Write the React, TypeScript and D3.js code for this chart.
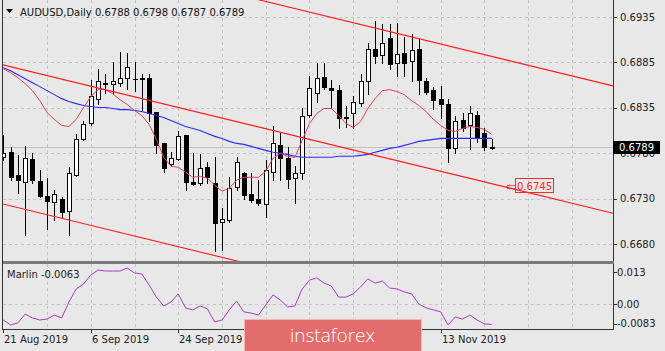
import React from 'react';
import * as d3 from 'd3';

// AUDUSD daily candles, 21 Aug 2019 .. 22 Nov 2019
const opens = [
  0.67774, 0.6783, 0.67573, 0.67494, 0.67751, 0.67505, 0.67338, 0.67271, 0.67304, 0.6717,
  0.67573, 0.67975, 0.68154, 0.68433, 0.68612, 0.68601, 0.68612, 0.68668, 0.68657, 0.68668,
  0.68668, 0.68288, 0.6793, 0.67695, 0.67751, 0.6802, 0.67494, 0.67483, 0.67662, 0.67483,
  0.67047, 0.67069, 0.67438, 0.67595, 0.6736, 0.67304, 0.67248, 0.67606, 0.67908, 0.67763,
  0.67539, 0.67595, 0.68254, 0.685, 0.68679, 0.68556, 0.68534, 0.6821, 0.68266, 0.68389,
  0.68635, 0.68995, 0.68925, 0.69115, 0.68836, 0.68948, 0.68858, 0.68992, 0.68635, 0.68534,
  0.68433, 0.68377, 0.67874, 0.68198, 0.68132, 0.68254, 0.68042, 0.6788,
];
const highs = [
  0.6802, 0.67886, 0.67796, 0.67897, 0.67819, 0.67628, 0.67539, 0.67405, 0.67327, 0.67662,
  0.68031, 0.68187, 0.68646, 0.68769, 0.68713, 0.68847, 0.68959, 0.68948, 0.68847, 0.68713,
  0.68713, 0.68288, 0.6793, 0.6783, 0.68075, 0.6802, 0.67819, 0.67807, 0.67718, 0.67774,
  0.67204, 0.6755, 0.67774, 0.67606, 0.67595, 0.67517, 0.6774, 0.6812, 0.68042, 0.67886,
  0.67673, 0.68333, 0.6869, 0.68836, 0.68836, 0.68646, 0.6859, 0.68355, 0.68467, 0.68713,
  0.69059, 0.69305, 0.69272, 0.69272, 0.69283, 0.69127, 0.6916, 0.69104, 0.68668, 0.68567,
  0.68579, 0.68433, 0.68243, 0.68277, 0.68355, 0.68299, 0.68098, 0.6798,
];
const lows = [
  0.6774, 0.67517, 0.67371, 0.66902, 0.67483, 0.67327, 0.6697, 0.67069, 0.67103, 0.66902,
  0.67561, 0.67964, 0.68132, 0.68378, 0.685, 0.685, 0.68579, 0.68545, 0.68523, 0.68299,
  0.68187, 0.67817, 0.67606, 0.67673, 0.6774, 0.67405, 0.67461, 0.67461, 0.67483, 0.66723,
  0.66734, 0.67047, 0.67405, 0.67304, 0.67271, 0.67237, 0.67103, 0.67517, 0.67517, 0.67427,
  0.6726, 0.67528, 0.68232, 0.684, 0.68545, 0.68333, 0.68098, 0.68109, 0.68098, 0.68355,
  0.68489, 0.68836, 0.68836, 0.68769, 0.68691, 0.68691, 0.68635, 0.68489, 0.68489, 0.68321,
  0.6821, 0.67718, 0.67817, 0.68075, 0.67863, 0.67941, 0.67852, 0.6787,
];
const closes = [
  0.67818, 0.6755, 0.67517, 0.67763, 0.67517, 0.67338, 0.67282, 0.6736, 0.67159, 0.67595,
  0.67975, 0.68143, 0.68467, 0.68635, 0.68601, 0.68635, 0.68668, 0.68791, 0.68651, 0.68657,
  0.68277, 0.67907, 0.67651, 0.67763, 0.68009, 0.67494, 0.67472, 0.67651, 0.6755, 0.67036,
  0.67081, 0.67427, 0.67718, 0.67349, 0.67293, 0.6726, 0.67628, 0.6793, 0.67763, 0.67528,
  0.67595, 0.68243, 0.68556, 0.68668, 0.68568, 0.68534, 0.6821, 0.68232, 0.684, 0.68635,
  0.68995, 0.68914, 0.69059, 0.68825, 0.68937, 0.68836, 0.68981, 0.68646, 0.68512, 0.68422,
  0.68377, 0.67874, 0.68187, 0.68098, 0.68266, 0.67986, 0.67886, 0.6789,
];

// fast moving average (red) and slow moving average (blue)
const fastMA = [
  0.68769, 0.68724, 0.68668, 0.68601, 0.68523, 0.68411, 0.68277, 0.68199, 0.68132, 0.6812,
  0.68199, 0.68333, 0.68456, 0.68534, 0.68534, 0.68489, 0.68422, 0.68366, 0.68299, 0.68243,
  0.68143, 0.67975, 0.67774, 0.67673, 0.67662, 0.67606, 0.6755, 0.67561, 0.67539, 0.67461,
  0.67394, 0.67427, 0.67517, 0.6755, 0.6755, 0.6755, 0.67617, 0.67763, 0.67819, 0.67785,
  0.67774, 0.67964, 0.68154, 0.68266, 0.68322, 0.68322, 0.68243, 0.68154, 0.68109, 0.68176,
  0.68322, 0.68433, 0.68523, 0.68534, 0.68512, 0.68478, 0.68411, 0.68355, 0.68288, 0.68199,
  0.68132, 0.68076, 0.68065, 0.68098, 0.6812, 0.68109, 0.68087, 0.68031,
];
const slowMA = [
  0.6878, 0.68746, 0.68702, 0.68657, 0.68612, 0.68568, 0.68523, 0.68478, 0.68433, 0.684,
  0.68377, 0.68355, 0.68344, 0.68333, 0.68333, 0.68322, 0.6831, 0.6831, 0.68299, 0.68288,
  0.68266, 0.68243, 0.68221, 0.68187, 0.68154, 0.6812, 0.68098, 0.68076, 0.68042, 0.68009,
  0.67986, 0.67953, 0.6793, 0.67919, 0.67897, 0.67874, 0.67852, 0.6783, 0.67819, 0.67807,
  0.67785, 0.67774, 0.67774, 0.67774, 0.67774, 0.67774, 0.67785, 0.67785, 0.67785, 0.67796,
  0.67807, 0.6783, 0.67852, 0.67874, 0.67886, 0.67908, 0.6793, 0.67953, 0.67964, 0.67975,
  0.67986, 0.67986, 0.67986, 0.67986, 0.67986, 0.67986, 0.67986, 0.67986,
];

// Marlin oscillator
const marlin = [
  -0.0065, -0.0085, -0.0077, -0.0041, -0.0057, -0.0065, -0.0061, -0.0045, -0.0057, 0.0008,
  0.0061, 0.0081, 0.0118, 0.0138, 0.0134, 0.0134, 0.0134, 0.0146, 0.0126, 0.0122,
  0.0077, 0.0028, -0.0008, 0.0008, 0.0041, -0.0016, -0.0024, -0.0008, -0.002, -0.0073,
  -0.0065, -0.0024, 0.0012, -0.0032, -0.0037, -0.0045, -0.0004, 0.0037, 0.0016, -0.0012,
  -0.0008, 0.0061, 0.0097, 0.0106, 0.0085, 0.0073, 0.0028, 0.0028, 0.0041, 0.0069,
  0.0102, 0.0085, 0.0093, 0.0065, 0.0061, 0.0049, 0.0041, 0, -0.0016, -0.0024,
  -0.0032, -0.0085, -0.0053, -0.0061, -0.0045, -0.0065, -0.0081, -0.0083,
];

// channel lines: [bar, price] pairs
const upperLine = [[50, 0.69246], [80, 0.68649]];
const middleLine = [[0, 0.68812], [80, 0.67218]];
const lowerLine = [[0, 0.67248], [30, 0.6665]];

const priceTicks = [0.6935, 0.6884, 0.6833, 0.6782, 0.6731, 0.668];
const priceLabels = ['0.6935', '0.6885', '0.6835', '0.6780', '0.6730', '0.6680'];
const marlinTicks = [0.013, 0, -0.0083];
const marlinLabels = ['0.013', '0.00', '-0.0083'];
// the labels at bars 36 and 48 sit under the watermark, so only the visible ones are kept
const dateBars = [0, 12, 24, 60];
const dateLabels = ['21 Aug 2019', '6 Sep 2019', '24 Sep 2019', '13 Nov 2019'];
const gridBars = d3.range(6, 80, 6);

const lastPrice = 0.6789;
const targetPrice = 0.6745;

const bg = '#e8e8e8';
const font = 'DejaVu Sans, sans-serif';

export default function App() {
  const x = d3.scaleLinear().domain([0, 80]).range([3.3, 3.3 + 7.29 * 80]);
  const y = d3.scaleLinear().domain([0.668, 0.6935]).range([244, 17]);
  const yM = d3.scaleLinear().domain([-0.0083, 0.013]).range([324.4, 272]);

  const plotL = 3;
  const plotR = 613;
  const mainB = 261;
  const indT = 264;
  const indB = 329;

  const maLine = d3.line<number>().x((d, i) => x(i)).y(d => y(d));
  const mLine = d3.line<number>().x((d, i) => x(i)).y(d => yM(d));

  const trend = (pts: number[][]) => {
    const [a, b] = pts;
    const x1 = x(a[0]), y1 = y(a[1]), x2 = x(b[0]), y2 = y(b[1]);
    const k = (y2 - y1) / (x2 - x1);
    return `M0,${y1 - k * x1}L${plotR},${y1 + k * (plotR - x1)}`;
  };

  const tY = y(targetPrice);

  return (
    <svg width={665} height={351} style={{ position: 'absolute', left: 0, top: 0, background: bg }}
      fontFamily={font} fontSize={10}>
      <defs>
        <clipPath id="mainClip"><rect x={plotL} y={0} width={plotR - plotL} height={mainB} /></clipPath>
        <clipPath id="indClip"><rect x={plotL} y={indT} width={plotR - plotL} height={indB - indT} /></clipPath>
      </defs>
      <rect width={665} height={351} fill={bg} />

      {/* grid */}
      <g stroke="#c4c4c4" strokeDasharray="3,3" shapeRendering="crispEdges">
        {gridBars.map(b => (
          <g key={b}>
            <line x1={Math.round(x(b)) + 0.5} x2={Math.round(x(b)) + 0.5} y1={0} y2={mainB} />
            <line x1={Math.round(x(b)) + 0.5} x2={Math.round(x(b)) + 0.5} y1={indT} y2={indB} />
          </g>
        ))}
        {priceTicks.map(t => (
          <line key={t} x1={plotL} x2={plotR} y1={Math.round(y(t)) + 0.5} y2={Math.round(y(t)) + 0.5} />
        ))}
        <line x1={plotL} x2={plotR} y1={Math.round(yM(0)) + 0.5} y2={Math.round(yM(0)) + 0.5} />
      </g>

      {/* bid line */}
      <line x1={plotL} x2={plotR} y1={Math.round(y(lastPrice)) + 0.5} y2={Math.round(y(lastPrice)) + 0.5}
        stroke="#c0c0c0" shapeRendering="crispEdges" />

      <g clipPath="url(#mainClip)">
        {/* candles */}
        <g shapeRendering="crispEdges">
          {opens.map((o, i) => {
            const c = closes[i];
            const cx = Math.round(x(i));
            const yo = Math.round(y(o));
            const yc = Math.round(y(c));
            const bull = c >= o;
            return (
              <g key={i}>
                <line x1={cx + 0.5} x2={cx + 0.5} y1={Math.round(y(highs[i]))} y2={Math.round(y(lows[i])) + 1} stroke="#000" />
                {Math.abs(yo - yc) < 1 ? (
                  <line x1={cx - 2} x2={cx + 3} y1={yo + 0.5} y2={yo + 0.5} stroke="#000" />
                ) : bull ? (
                  <rect x={cx - 1.5} y={yc + 0.5} width={4} height={yo - yc} fill="#fff" stroke="#000" />
                ) : (
                  <rect x={cx - 2} y={yo} width={5} height={yc - yo + 1} fill="#000" />
                )}
              </g>
            );
          })}
        </g>

        {/* moving averages */}
        <path d={maLine(slowMA) || ''} fill="none" stroke="#2b2bff" strokeWidth={1.1} />
        <path d={maLine(fastMA) || ''} fill="none" stroke="#e0405c" strokeWidth={1} />

        {/* channel */}
        <g fill="none" stroke="#ff1a1a" strokeWidth={1.1}>
          <path d={trend(upperLine)} />
          <path d={trend(middleLine)} />
          <path d={trend(lowerLine)} />
        </g>
      </g>

      {/* target label */}
      <g stroke="#ff2a2a" fill="none">
        <path d={`M${506},${tY + 1}L${510},${tY - 1.5}M${506},${tY + 1}L${510},${tY + 3}M${507},${tY - 0.5}L${515},${tY - 0.5}M${507},${tY + 2.5}L${515},${tY + 2.5}`} strokeWidth={0.8} />
        <rect x={515.5} y={Math.round(tY) - 7.5} width={38} height={14} />
      </g>
      <text x={517} y={Math.round(tY) + 4} fill="#ff2a2a">{targetPrice.toFixed(4)}</text>

      {/* Marlin */}
      <g clipPath="url(#indClip)">
        <path d={mLine(marlin) || ''} fill="none" stroke="#a93cc4" strokeWidth={1} />
      </g>
      <text x={7} y={278} fill="#222">Marlin -0.0063</text>

      {/* frames */}
      <g shapeRendering="crispEdges">
        <line x1={2.5} x2={2.5} y1={0} y2={indB} stroke="#333" />
        <line x1={plotR + 0.5} x2={plotR + 0.5} y1={0} y2={indB + 1} stroke="#333" />
        <rect x={plotL} y={mainB} width={plotR - plotL + 1} height={3} fill="#7a7a7a" />
        <line x1={2} x2={plotR + 1} y1={indB + 0.5} y2={indB + 0.5} stroke="#333" />
      </g>

      {/* price axis */}
      <g fill="#222">
        {priceTicks.map((t, i) => (
          <g key={t}>
            <line x1={plotR} x2={plotR + 4} y1={Math.round(y(t)) + 0.5} y2={Math.round(y(t)) + 0.5} stroke="#333" />
            <text x={620} y={y(t) + 3.5}>{priceLabels[i]}</text>
          </g>
        ))}
        {marlinTicks.map((t, i) => (
          <g key={t}>
            <line x1={plotR} x2={plotR + 4} y1={Math.round(yM(t)) + 0.5} y2={Math.round(yM(t)) + 0.5} stroke="#333" />
            <text x={617} y={Math.min(yM(t), 323) + 4}>{marlinLabels[i]}</text>
          </g>
        ))}
      </g>
      <rect x={613} y={Math.round(y(lastPrice)) - 6} width={47} height={13} fill="#000" />
      <text x={619} y={Math.round(y(lastPrice)) + 4} fill="#fff">{lastPrice.toFixed(4)}</text>

      {/* time axis */}
      <g fill="#222">
        {dateBars.map((b, i) => (
          <g key={b}>
            <line x1={Math.round(x(b)) + 0.5} x2={Math.round(x(b)) + 0.5} y1={indB} y2={indB + 4} stroke="#333" />
            <text x={Math.round(x(b)) + 1} y={343}>{dateLabels[i]}</text>
          </g>
        ))}
      </g>

      {/* title */}
      <path d="M6,9L13,9L9.5,13Z" fill="#000" />
      <text x={20} y={16} fill="#111">AUDUSD,Daily  0.6788 0.6798 0.6787 0.6789</text>

      {/* watermark */}
      <rect x={244.5} y={319.5} width={177} height={33} fill="#e36d6d" stroke="#f3b5b5" />
      <text x={290} y={342} fill="#fff" fontFamily="Open Sans, sans-serif" fontSize={19} fontWeight={300}>instaforex</text>
    </svg>
  );
}
